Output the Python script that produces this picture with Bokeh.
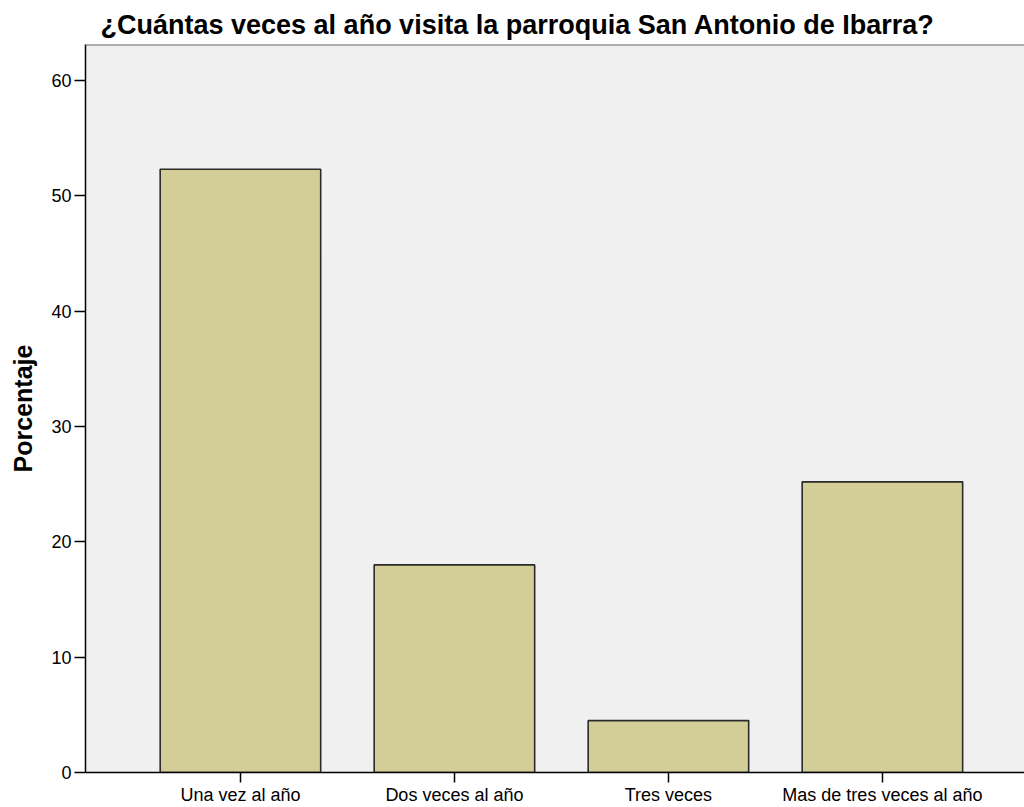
from bokeh.plotting import figure
from bokeh.models import Range1d, FixedTicker, Span, Title
from bokeh.embed import file_html
from bokeh.resources import INLINE

# Data
categories = ["Una vez al año", "Dos veces al año", "Tres veces", "Mas de tres veces al año"]
percentages = [52.3, 18.0, 4.5, 25.2]
y_ticks = [0, 10, 20, 30, 40, 50, 60]
title_text = "¿Cuántas veces al año visita la parroquia San Antonio de Ibarra?"
y_label = "Porcentaje"

positions = list(range(1, len(categories) + 1))

FONT = "Liberation Sans"

p = figure(
    width=1024, height=807,
    output_backend="svg", toolbar_location=None,
    x_range=Range1d(0.276, 4.664), y_range=Range1d(0, 63.12),
    min_border_left=85, min_border_right=0, min_border_top=44, min_border_bottom=35,
)

p.title = None
t = Title(text=title_text, align="left", offset=15, text_font=FONT,
          text_font_size="27px", text_font_style="bold", text_color="black", standoff=9)
p.add_layout(t, "above")

p.background_fill_color = "#F0F0F0"
p.border_fill_color = "white"
p.outline_line_color = None
p.grid.visible = False

p.vbar(x=positions, top=percentages, width=0.75, bottom=0,
       fill_color="#D3CE97", line_color="#2b2b2b", line_width=1.6)

# top frame line
p.add_layout(Span(location=p.y_range.end, dimension="width", line_color="#666666", line_width=2))

# axes
p.yaxis.ticker = FixedTicker(ticks=y_ticks)
p.yaxis.axis_label = y_label
p.yaxis.axis_label_text_font = FONT
p.yaxis.axis_label_text_font_size = "25px"
p.yaxis.axis_label_text_font_style = "bold"
p.yaxis.axis_label_text_color = "black"
p.yaxis.axis_label_standoff = 11
p.yaxis.major_label_text_font = FONT
p.yaxis.major_label_text_font_size = "18px"
p.yaxis.major_label_text_color = "black"
p.yaxis.major_label_standoff = 3
p.yaxis.major_tick_out = 11
p.yaxis.major_tick_in = 0
p.yaxis.minor_tick_out = 0
p.yaxis.minor_tick_in = 0
p.yaxis.axis_line_color = "black"
p.yaxis.axis_line_width = 1.5
p.yaxis.major_tick_line_color = "black"
p.yaxis.major_tick_line_width = 1.5

p.xaxis.ticker = FixedTicker(ticks=positions)
p.xaxis.major_label_overrides = {pos: cat for pos, cat in zip(positions, categories)}
p.xaxis.major_label_text_font = FONT
p.xaxis.major_label_text_font_size = "18px"
p.xaxis.major_label_text_color = "black"
p.xaxis.major_label_standoff = 2
p.xaxis.major_tick_out = 10
p.xaxis.major_tick_in = 0
p.xaxis.minor_tick_out = 0
p.xaxis.minor_tick_in = 0
p.xaxis.axis_line_color = "black"
p.xaxis.axis_line_width = 1.5
p.xaxis.major_tick_line_color = "black"
p.xaxis.major_tick_line_width = 1.5

open("out.html", "w").write(file_html(p, INLINE))
